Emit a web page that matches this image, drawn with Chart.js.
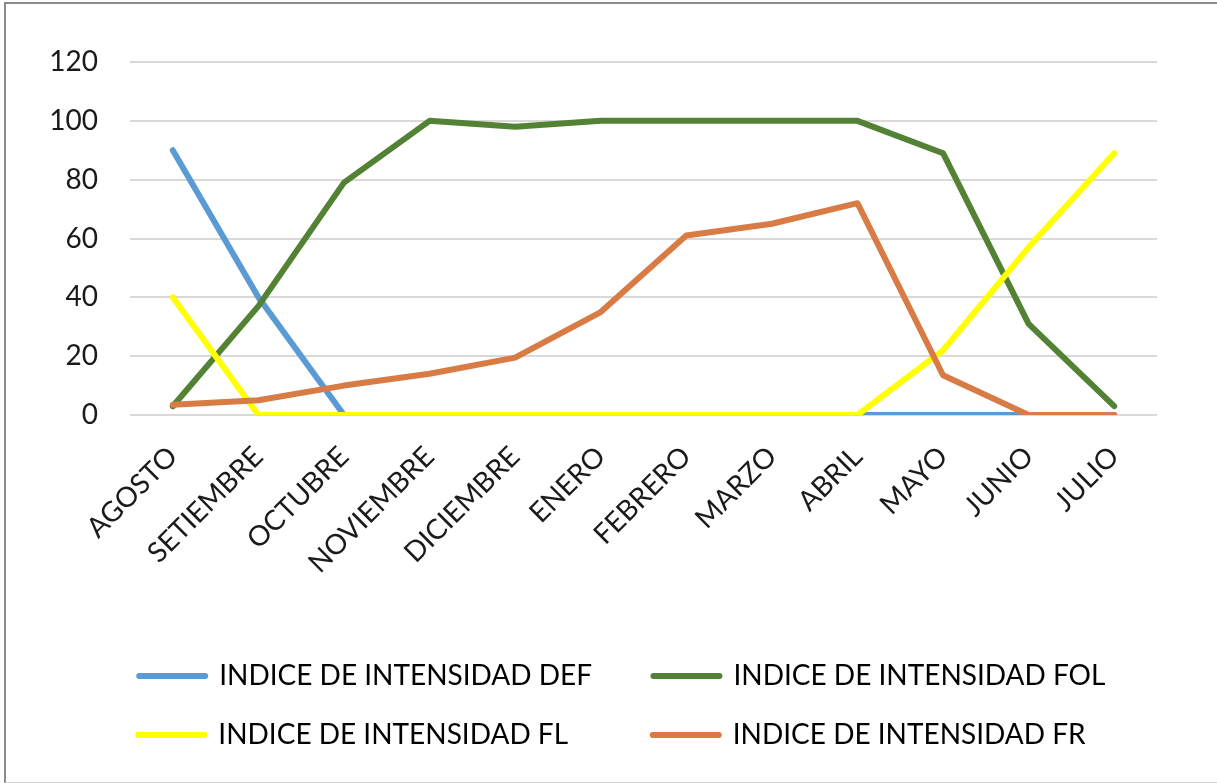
<!DOCTYPE html>
<html>
<head>
<meta charset="utf-8">
<script src="https://cdn.jsdelivr.net/npm/chart.js@4.4.1/dist/chart.umd.min.js"></script>
<style>
  html, body { margin: 0; padding: 0; background: #fff; }
  #wrap { position: absolute; left: 0; top: 0; width: 1217px; height: 783px; }
  #frame { position: absolute; left: 4px; top: 2px; width: 1211px; height: 778px;
           border-left: 2px solid #8c8c8c; border-top: 2px solid #8c8c8c;
           border-right: 1px solid #d4d4d4; border-bottom: 1px solid #d4d4d4; pointer-events: none; }
</style>
</head>
<body>
<div id="wrap"><canvas id="c" width="1217" height="783"></canvas></div>
<div id="frame"></div>
<script>
const categories = ['AGOSTO','SETIEMBRE','OCTUBRE','NOVIEMBRE','DICIEMBRE','ENERO','FEBRERO','MARZO','ABRIL','MAYO','JUNIO','JULIO'];
const seriesNames = ['INDICE DE INTENSIDAD DEF','INDICE DE INTENSIDAD FOL','INDICE DE INTENSIDAD FL','INDICE DE INTENSIDAD FR'];
const defValues = [90, 40, 0, 0, 0, 0, 0, 0, 0, 0, 0, 0];
const folValues = [3, 37, 79, 100, 98, 100, 100, 100, 100, 89, 31, 3];
const flValues  = [40, 0, 0, 0, 0, 0, 0, 0, 0, 22, 57, 89];
const frValues  = [3.5, 5, 10, 14, 19.5, 35, 61, 65, 72, 13.5, 0, 0];

const FONT = "Lato, 'Open Sans', sans-serif";
const LEGEND_SIZE = 28;
const BOX_W = 66;
const TEXT_TARGETS = [404, 454, 404, 454];
const colors = ['#5B9BD5', '#548235', '#FFFF00', '#D97B45'];
const values = [defValues, folValues, flValues, frValues];

const datasets = seriesNames.map((name, i) => ({
  label: name,
  data: values[i],
  borderColor: colors[i],
  backgroundColor: colors[i],
  borderWidth: 6,
  borderCapStyle: 'round',
  borderJoinStyle: 'round',
  pointRadius: 0,
  pointHoverRadius: 0,
  tension: 0,
  order: 4 - i
}));

function padText(ctx, text, target) {
  ctx.save();
  ctx.font = LEGEND_SIZE + 'px ' + FONT;
  let t = text;
  let guard = 0;
  while (ctx.measureText(t + ' ').width <= target && guard++ < 80) t += ' ';
  while (ctx.measureText(t + '\u200A').width <= target && guard++ < 120) t += '\u200A';
  ctx.restore();
  return t;
}

new Chart(document.getElementById('c'), {
  type: 'line',
  data: { labels: categories, datasets },
  options: {
    responsive: false,
    animation: false,
    layout: { padding: { left: 0, right: 0, top: 62, bottom: 24 } },
    plugins: {
      tooltip: { enabled: false },
      legend: {
        position: 'bottom',
        align: 'end',
        labels: {
          usePointStyle: true,
          pointStyle: 'line',
          pointStyleWidth: BOX_W,
          padding: 31,
          color: '#1a1a1a',
          font: { family: FONT, size: LEGEND_SIZE },
          generateLabels: (chart) => chart.data.datasets.map((ds, i) => ({
            text: padText(chart.ctx, ds.label, TEXT_TARGETS[i]),
            fillStyle: ds.borderColor,
            strokeStyle: ds.borderColor,
            lineWidth: 6,
            lineCap: 'round',
            pointStyle: 'line',
            hidden: false,
            datasetIndex: i
          })),
          sort: (a, b) => a.datasetIndex - b.datasetIndex
        }
      }
    },
    scales: {
      x: {
        offset: true,
        grid: { display: false, drawTicks: false },
        border: { display: false },
        ticks: {
          color: '#1a1a1a',
          font: { family: FONT, size: 28 },
          minRotation: 45,
          maxRotation: 45,
          padding: 25,
          autoSkip: false
        },
        afterFit: (s) => { s.height = 216; }
      },
      y: {
        min: 0,
        max: 120,
        grid: { color: '#d9d9d9', lineWidth: 2, drawTicks: false },
        border: { display: false },
        ticks: {
          stepSize: 20,
          color: '#1a1a1a',
          font: { family: FONT, size: 28 },
          padding: 32
        },
        afterFit: (s) => { s.width = 130; }
      },
      yRight: {
        position: 'right',
        display: true,
        grid: { display: false, drawTicks: false },
        border: { display: false },
        ticks: { display: false },
        afterFit: (s) => { s.width = 60; }
      }
    }
  }
});
</script>
</body>
</html>
